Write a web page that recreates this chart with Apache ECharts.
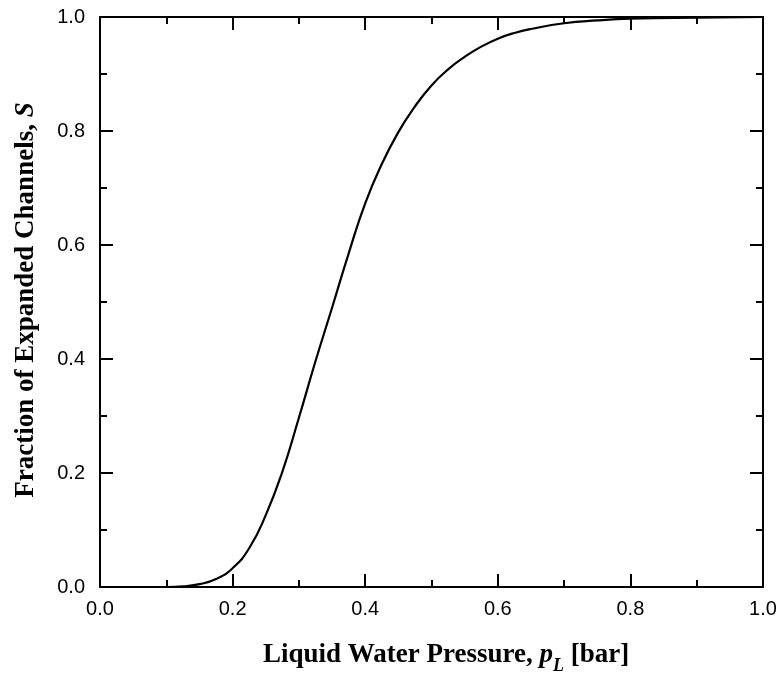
<!DOCTYPE html>
<html>
<head>
<meta charset="utf-8">
<script src="https://cdn.jsdelivr.net/npm/echarts@6/dist/echarts.min.js"></script>
<style>html,body{margin:0;padding:0;background:#fff}#c{width:781px;height:675px}</style>
</head>
<body>
<div id="c"></div>
<script>
// Data
const pressure = [0, 0.05, 0.1, 0.125, 0.15, 0.175, 0.2, 0.225, 0.25, 0.275, 0.3, 0.325, 0.35, 0.375, 0.4, 0.425, 0.45, 0.475, 0.5, 0.525, 0.55, 0.575, 0.6, 0.625, 0.65, 0.7, 0.75, 0.8, 0.9, 1.0];
const fraction = [0, 0, 0, 0.001, 0.005, 0.014, 0.033, 0.068, 0.126, 0.202, 0.297, 0.396, 0.490, 0.585, 0.673, 0.742, 0.798, 0.843, 0.880, 0.908, 0.930, 0.948, 0.962, 0.972, 0.979, 0.989, 0.994, 0.997, 0.999, 1.0];
const xTicks = [0, 0.2, 0.4, 0.6, 0.8, 1.0];
const yTicks = [0, 0.2, 0.4, 0.6, 0.8, 1.0];
const xTitle = ['Liquid Water Pressure, ', 'p', 'L', ' [bar]'];
const yTitle = ['Fraction of Expanded Channels, ', 'S'];

const chart = echarts.init(document.getElementById('c'));
const lineStyle = { color: '#000', width: 2 };
const labelStyle = { color: '#000', fontFamily: 'Liberation Sans', fontSize: 20 };
function axisBase(extra) {
  return Object.assign({
    type: 'value', min: 0, max: 1, interval: 0.2,
    axisLine: { show: true, onZero: false, lineStyle: lineStyle },
    axisTick: { show: true, inside: true, length: 13, lineStyle: lineStyle },
    minorTick: { show: true, splitNumber: 2, length: 7, lineStyle: lineStyle },
    splitLine: { show: false },
    minorSplitLine: { show: false }
  }, extra);
}
const serif = 'Liberation Serif';
const rich = {
  n: { fontFamily: serif, fontWeight: 'bold', fontSize: 27, color: '#000' },
  i: { fontFamily: serif, fontWeight: 'bold', fontStyle: 'italic', fontSize: 27, color: '#000' },
  sub: { fontFamily: serif, fontWeight: 'bold', fontStyle: 'italic', fontSize: 18, color: '#000', verticalAlign: 'bottom', padding: [22, 0, 0, 0] }
};

chart.setOption({
  animation: false,
  backgroundColor: '#fff',
  grid: { left: 100, right: 18, top: 17, bottom: 88, containLabel: false },
  xAxis: [
    axisBase({
      position: 'bottom',
      axisLabel: Object.assign({ margin: 12, formatter: v => v.toFixed(1) }, labelStyle)
    }),
    axisBase({ position: 'top', axisLabel: { show: false } })
  ],
  yAxis: [
    axisBase({
      position: 'left',
      axisLabel: Object.assign({ margin: 15, formatter: v => v.toFixed(1) }, labelStyle)
    }),
    axisBase({ position: 'right', axisLabel: { show: false } })
  ],
  graphic: [
    {
      type: 'text', x: 446, y: 655,
      style: {
        text: '{n|' + xTitle[0] + '}{i|' + xTitle[1] + '}{sub|' + xTitle[2] + '}{n|' + xTitle[3] + '}',
        rich: rich, align: 'center', verticalAlign: 'middle'
      }
    },
    {
      type: 'text', x: 26, y: 300, rotation: Math.PI / 2,
      style: {
        text: '{n|' + yTitle[0] + '}{i|' + yTitle[1] + '}',
        rich: rich, align: 'center', verticalAlign: 'middle'
      }
    }
  ],
  series: [{
    type: 'line',
    xAxisIndex: 0, yAxisIndex: 0,
    data: pressure.map((p, k) => [p, fraction[k]]),
    smooth: 0.5,
    showSymbol: false,
    lineStyle: { color: '#000', width: 2.2 }
  }]
});
</script>
</body>
</html>
